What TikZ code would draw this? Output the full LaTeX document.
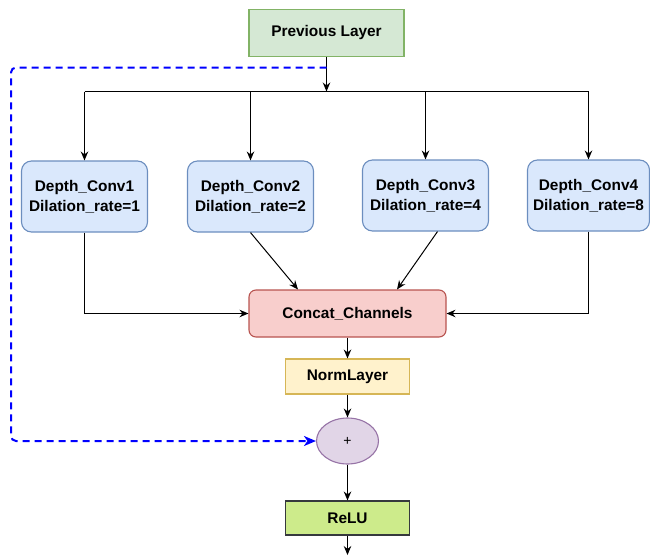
\documentclass[tikz,border=0pt]{standalone}
\usepackage{fontspec}
\setmainfont{Liberation Sans}
\usetikzlibrary{arrows.meta,calc,shapes.geometric}

\definecolor{prevfill}{HTML}{D5E8D4}
\definecolor{prevline}{HTML}{82B366}
\definecolor{convfill}{HTML}{DAE8FC}
\definecolor{convline}{HTML}{6C8EBF}
\definecolor{catfill}{HTML}{F8CECC}
\definecolor{catline}{HTML}{B85450}
\definecolor{normfill}{HTML}{FFF2CC}
\definecolor{normline}{HTML}{D6B656}
\definecolor{addfill}{HTML}{E1D5E7}
\definecolor{addline}{HTML}{9673A6}
\definecolor{relufill}{HTML}{CDEB8B}
\definecolor{reluline}{HTML}{36393D}

\tikzset{
  box/.style={draw, line width=1.1pt, inner sep=0pt, align=center,
    font=\fontsize{15.4}{20}\selectfont\bfseries},
  convbox/.style={box, fill=convfill, draw=convline, rounded corners=10pt,
    minimum width=126pt, minimum height=71pt},
  wire/.style={line width=1pt, black},
  arr/.style={wire, -{Stealth[length=9pt,width=7.5pt,inset=3pt]}},
  skip/.style={line width=2pt, blue, dash pattern=on 7pt off 5pt,
    rounded corners=5pt, -{Stealth[length=12pt,width=10pt,inset=3.5pt]}},
}

\begin{document}
\begin{tikzpicture}[x=1pt,y=-1pt]
\useasboundingbox (0,0) rectangle (650,557);

% blocks
\node[box, fill=prevfill, draw=prevline, minimum width=155pt, minimum height=47pt]
  (prev) at (326.5,33) {\raisebox{-1.5pt}{Previous Layer}};

\node[convbox] (c1) at (84.5,196.5) {Depth\_Conv1\\Dilation\_rate=1};
\node[convbox] (c2) at (250.5,196.5) {Depth\_Conv2\\Dilation\_rate=2};
\node[convbox] (c3) at (425.5,195.5) {Depth\_Conv3\\Dilation\_rate=4};
\node[convbox, minimum width=122pt] (c4) at (588.5,195.5) {Depth\_Conv4\\Dilation\_rate=8};

\node[box, fill=catfill, draw=catline, rounded corners=7pt,
  minimum width=197pt, minimum height=47pt] (concat) at (347.5,313.5) {Concat\_Channels};

\node[box, fill=normfill, draw=normline, minimum width=124pt, minimum height=35pt]
  (norm) at (347.5,376.5) {NormLayer};

\node[ellipse, draw=addline, fill=addfill, line width=1.1pt, inner sep=0pt,
  minimum width=62pt, minimum height=46pt, font=\fontsize{14}{16}\selectfont]
  (plus) at (347.5,441) {+};

\node[box, fill=relufill, draw=reluline, minimum width=124pt, minimum height=34pt]
  (relu) at (347.5,518) {ReLU};

% fan-out to the four branches
\coordinate (bus) at (326.5,91.5);
\coordinate (tap) at (326.5,67.5);
\draw[arr] (prev.south) -- (bus);
\draw[wire] (c1.north |- bus) -- (c4.north |- bus);
\foreach \n in {c1,c2,c3,c4}
  \draw[arr] (\n.north |- bus) -- (\n.north);

% merge into the concatenation
\draw[arr] (c1.south) |- (concat.west);
\draw[arr] (c4.south) |- (concat.east);
\draw[arr] (c2.south) -- ($(concat.north west)!0.25!(concat.north east)$);
\draw[arr] ($(c3.south)+(12,0)$) -- ($(concat.north west)!0.75!(concat.north east)$);

% main path
\draw[arr] (concat.south) -- (norm.north);
\draw[arr] (norm.south) -- (plus.north);
\draw[arr] (plus.south) -- (relu.north);
\coordinate (out) at (347.5,555);
\draw[arr] (relu.south) -- (out);

% residual shortcut
\coordinate (skipcorner) at (11,441);
\draw[skip] (tap) -| (skipcorner) -- (plus.west);
\end{tikzpicture}
\end{document}
